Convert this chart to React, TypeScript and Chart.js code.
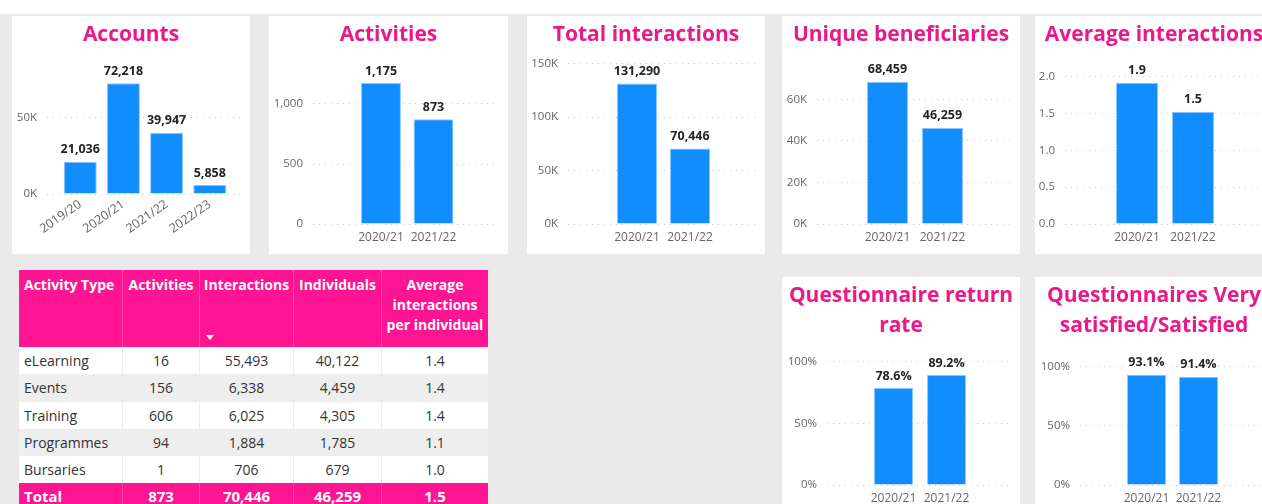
import React, { useEffect, useRef } from "react";
import { Chart, registerables } from "chart.js";

Chart.register(...registerables);

const FONT = '"Open Sans", "Noto Sans", Arial, sans-serif';
const TITLE_PINK = "#E8198B";
const TABLE_PINK = "#FF1493";
const BAR_BLUE = "#118DFF";
const TICK_GREY = "#666666";

// ---------- chart data ----------
const accountYears = ["2019/20", "2020/21", "2021/22", "2022/23"];
const accountValues = [21036, 72218, 39947, 5858];
const accountTicks = [0, 50000];

const periodYears = ["2020/21", "2021/22"];
const activityValues = [1175, 873];
const activityTicks = [0, 500, 1000];

const interactionValues = [131290, 70446];
const interactionTicks = [0, 50000, 100000, 150000];

const beneficiaryValues = [68459, 46259];
const beneficiaryTicks = [0, 20000, 40000, 60000];

const avgInteractionValues = [1.918, 1.523];
const avgInteractionTicks = [0, 0.5, 1.0, 1.5, 2.0];

const returnRateValues = [78.6, 89.2];
const satisfiedValues = [93.1, 91.4];
const percentTicks = [0, 50, 100];

// ---------- table data ----------
const tableHeaders = [["Activity Type"], ["Activities"], ["Interactions"], ["Individuals"], ["Average", "interactions", "per individual"]];
const activityTypes = ["eLearning", "Events", "Training", "Programmes", "Bursaries"];
const activityCounts = [16, 156, 606, 94, 1];
const interactionCounts = [55493, 6338, 6025, 1884, 706];
const individualCounts = [40122, 4459, 4305, 1785, 679];
const avgPerIndividual = [1.4, 1.4, 1.4, 1.1, 1.0];
const totalLabel = "Total";
const totalValues = [873, 70446, 46259, 1.5];

const fmtInt = (v: number) => Math.round(v).toLocaleString("en-US");
const fmtK = (v: number) => `${Math.round(v / 1000)}K`;
const fmt1 = (v: number) => v.toFixed(1);
const fmtPct0 = (v: number) => `${v}%`;
const fmtPct1 = (v: number) => `${v.toFixed(1)}%`;

type Rect = { x: number; y: number; w: number; h: number };
type Spec = {
  title: string[];
  panel: Rect;
  canvasTop: number;
  canvasBottom: number;
  plot: { l: number; r: number; t: number; b: number };
  labels: string[];
  values: number[];
  yMax: number;
  yTicks: number[];
  tickFmt: (v: number) => string;
  labelFmt: (v: number) => string;
  xMin: number;
  xMax: number;
  barPct: number;
  rotation: number;
};

const specs: Spec[] = [
  {
    title: ["Accounts"], panel: { x: 12, y: 16, w: 238, h: 238 }, canvasTop: 44, canvasBottom: 254,
    plot: { l: 47, r: 243, t: 79, b: 194 }, labels: accountYears, values: accountValues,
    yMax: 75000, yTicks: accountTicks, tickFmt: fmtK, labelFmt: fmtInt, xMin: -0.77, xMax: 3.77, barPct: 0.764, rotation: 35,
  },
  {
    title: ["Activities"], panel: { x: 269, y: 16, w: 239, h: 238 }, canvasTop: 44, canvasBottom: 254,
    plot: { l: 313, r: 498, t: 74, b: 224 }, labels: periodYears, values: activityValues,
    yMax: 1250, yTicks: activityTicks, tickFmt: fmtInt, labelFmt: fmtInt, xMin: -1.295, xMax: 2.229, barPct: 0.76, rotation: 0,
  },
  {
    title: ["Total interactions"], panel: { x: 527, y: 16, w: 238, h: 238 }, canvasTop: 44, canvasBottom: 254,
    plot: { l: 568, r: 760, t: 63.5, b: 224 }, labels: periodYears, values: interactionValues,
    yMax: 150000, yTicks: interactionTicks, tickFmt: fmtK, labelFmt: fmtInt, xMin: -1.302, xMax: 2.321, barPct: 0.755, rotation: 0,
  },
  {
    title: ["Unique beneficiaries"], panel: { x: 782, y: 16, w: 238, h: 238 }, canvasTop: 44, canvasBottom: 254,
    plot: { l: 817, r: 1013, t: 78.6, b: 224 }, labels: periodYears, values: beneficiaryValues,
    yMax: 70000, yTicks: beneficiaryTicks, tickFmt: fmtK, labelFmt: fmtInt, xMin: -1.282, xMax: 2.282, barPct: 0.745, rotation: 0,
  },
  {
    title: ["Average interactions"], panel: { x: 1035, y: 16, w: 238, h: 238 }, canvasTop: 44, canvasBottom: 254,
    plot: { l: 1065, r: 1265, t: 76.7, b: 224 }, labels: periodYears, values: avgInteractionValues,
    yMax: 2, yTicks: avgInteractionTicks, tickFmt: fmt1, labelFmt: fmt1, xMin: -1.286, xMax: 2.286, barPct: 0.75, rotation: 0,
  },
  {
    title: ["Questionnaire return", "rate"], panel: { x: 782, y: 277, w: 238, h: 240 }, canvasTop: 340, canvasBottom: 517,
    plot: { l: 827, r: 1012, t: 361.7, b: 485 }, labels: periodYears, values: returnRateValues,
    yMax: 100, yTicks: percentTicks, tickFmt: fmtPct0, labelFmt: fmtPct1, xMin: -1.255, xMax: 2.235, barPct: 0.736, rotation: 0,
  },
  {
    title: ["Questionnaires Very", "satisfied/Satisfied"], panel: { x: 1035, y: 277, w: 238, h: 240 }, canvasTop: 340, canvasBottom: 517,
    plot: { l: 1080, r: 1265, t: 366.7, b: 485 }, labels: periodYears, values: satisfiedValues,
    yMax: 100, yTicks: percentTicks, tickFmt: fmtPct0, labelFmt: fmtPct1, xMin: -1.279, xMax: 2.279, barPct: 0.75, rotation: 0,
  },
];

function BarPanel({ spec }: { spec: Spec }) {
  const ref = useRef<HTMLCanvasElement>(null);
  const cw = spec.panel.w;
  const ch = spec.canvasBottom - spec.canvasTop;

  useEffect(() => {
    if (!ref.current) return;
    const { panel, plot } = spec;
    const yAxisW = plot.l - panel.x;
    const xAxisH = spec.canvasBottom - plot.b;
    const padTop = plot.t - spec.canvasTop;
    const padRight = panel.x + panel.w - plot.r;

    const labelPlugin = {
      id: "valueLabels",
      afterDatasetsDraw(chart: any) {
        const ctx = chart.ctx;
        const meta = chart.getDatasetMeta(0);
        ctx.save();
        ctx.font = `bold 12.5px ${FONT}`;
        ctx.fillStyle = "#252423";
        ctx.textAlign = "center";
        ctx.textBaseline = "middle";
        meta.data.forEach((bar: any, i: number) => {
          ctx.fillText(spec.labelFmt(spec.values[i]), bar.x, bar.y - 12);
        });
        ctx.restore();
      },
    };

    const chart = new Chart(ref.current, {
      type: "bar",
      data: {
        datasets: [
          {
            data: spec.values.map((v, i) => ({ x: i, y: v })),
            backgroundColor: BAR_BLUE,
            borderColor: "#8cc6ff",
            borderWidth: 1,
            categoryPercentage: 1,
            barPercentage: spec.barPct,
          },
        ],
      },
      options: {
        animation: false,
        responsive: false,
        maintainAspectRatio: false,
        events: [],
        layout: { padding: { top: padTop, right: padRight, left: 0, bottom: 0 } },
        plugins: { legend: { display: false }, tooltip: { enabled: false } },
        scales: {
          x: {
            type: "linear",
            min: spec.xMin,
            max: spec.xMax,
            offset: false,
            grid: { display: false, drawTicks: false, offset: false },
            border: { display: false },
            afterBuildTicks: (s: any) => {
              s.ticks = spec.labels.map((_, i) => ({ value: i }));
            },
            afterFit: (s: any) => {
              s.height = xAxisH;
            },
            ticks: {
              autoSkip: false,
              maxRotation: spec.rotation,
              minRotation: spec.rotation,
              padding: spec.rotation ? 3 : 6,
              color: TICK_GREY,
              font: { family: FONT, size: spec.rotation ? 12.5 : 12 },
              callback: (v: any) => spec.labels[v as number] ?? "",
            },
          },
          y: {
            min: 0,
            max: spec.yMax,
            afterBuildTicks: (s: any) => {
              s.ticks = spec.yTicks.map((v) => ({ value: v }));
            },
            afterFit: (s: any) => {
              s.width = yAxisW;
            },
            grid: { color: "#c4c4c4", lineWidth: 1, drawTicks: false },
            border: { display: false, dash: [1, 5] },
            ticks: {
              padding: 10,
              color: TICK_GREY,
              font: { family: FONT, size: 11.5 },
              callback: (v: any) => spec.tickFmt(Number(v)),
            },
          },
        },
      } as any,
      plugins: [labelPlugin],
    });
    return () => chart.destroy();
  }, [spec]);

  return (
    <div
      style={{
        position: "absolute",
        left: spec.panel.x,
        top: spec.panel.y,
        width: spec.panel.w,
        height: spec.panel.h,
        background: "#ffffff",
      }}
    >
      <div
        style={{
          position: "absolute",
          left: -20,
          top: 2,
          width: spec.panel.w + 40,
          textAlign: "center",
          color: TITLE_PINK,
          fontWeight: 700,
          fontSize: 21,
          lineHeight: "30px",
          whiteSpace: "nowrap",
        }}
      >
        {spec.title.map((t, i) => (
          <div key={i}>{t}</div>
        ))}
      </div>
      <canvas
        ref={ref}
        width={cw}
        height={ch}
        style={{ position: "absolute", left: 0, top: spec.canvasTop - spec.panel.y, width: cw, height: ch }}
      />
    </div>
  );
}

const colWidths = [103, 77, 94, 88, 107];
const ROW_H = 27.3;

function ActivityTable() {
  const rows = activityTypes.map((t, i) => [
    t,
    fmtInt(activityCounts[i]),
    fmtInt(interactionCounts[i]),
    fmtInt(individualCounts[i]),
    fmt1(avgPerIndividual[i]),
  ]);
  const total = [totalLabel, fmtInt(totalValues[0]), fmtInt(totalValues[1]), fmtInt(totalValues[2]), fmt1(totalValues[3])];

  const cellBase = (ci: number): React.CSSProperties => ({
    width: colWidths[ci],
    boxSizing: "border-box",
    textAlign: ci === 0 ? "left" : "center",
    paddingLeft: ci === 0 ? 5 : 2,
    paddingRight: 2,
    whiteSpace: "nowrap",
    position: "relative",
  });

  return (
    <div style={{ position: "absolute", left: 19, top: 270, width: 469 }}>
      <div style={{ display: "flex", height: 77, background: TABLE_PINK }}>
        {tableHeaders.map((lines, ci) => (
          <div
            key={ci}
            style={{
              ...cellBase(ci),
              color: "#ffffff",
              fontWeight: 700,
              fontSize: 14,
              lineHeight: "20px",
              paddingTop: 5,
              borderLeft: ci ? "1px solid rgba(255,255,255,0.22)" : "none",
            }}
          >
            {lines.map((l, li) => (
              <div key={li}>{l}</div>
            ))}
            {ci === 2 && (
              <div
                style={{
                  position: "absolute",
                  left: 6,
                  bottom: 7,
                  width: 0,
                  height: 0,
                  borderLeft: "4.5px solid transparent",
                  borderRight: "4.5px solid transparent",
                  borderTop: "5px solid #ffffff",
                }}
              />
            )}
          </div>
        ))}
      </div>
      {rows.map((r, ri) => (
        <div key={ri} style={{ display: "flex", height: ROW_H, background: ri % 2 ? "#eeeeee" : "#ffffff" }}>
          {r.map((c, ci) => (
            <div
              key={ci}
              style={{
                ...cellBase(ci),
                color: "#333333",
                fontSize: 14,
                lineHeight: `${ROW_H}px`,
                borderLeft: ci ? "1px solid #ececec" : "none",
              }}
            >
              {c}
            </div>
          ))}
        </div>
      ))}
      <div style={{ display: "flex", height: ROW_H, background: TABLE_PINK }}>
        {total.map((c, ci) => (
          <div
            key={ci}
            style={{
              ...cellBase(ci),
              color: "#ffffff",
              fontWeight: 700,
              fontSize: 15,
              lineHeight: `${ROW_H}px`,
              borderLeft: ci ? "1px solid rgba(255,255,255,0.22)" : "none",
            }}
          >
            {c}
          </div>
        ))}
      </div>
    </div>
  );
}

export default function App() {
  return (
    <div
      style={{
        position: "fixed",
        left: 0,
        top: 0,
        width: 1262,
        height: 504,
        overflow: "hidden",
        background: "#eaeaea",
        fontFamily: FONT,
      }}
    >
      <div style={{ position: "absolute", left: 0, top: 0, width: 1262, height: 14, background: "#ffffff" }} />
      {specs.map((s, i) => (
        <BarPanel key={i} spec={s} />
      ))}
      <ActivityTable />
    </div>
  );
}
